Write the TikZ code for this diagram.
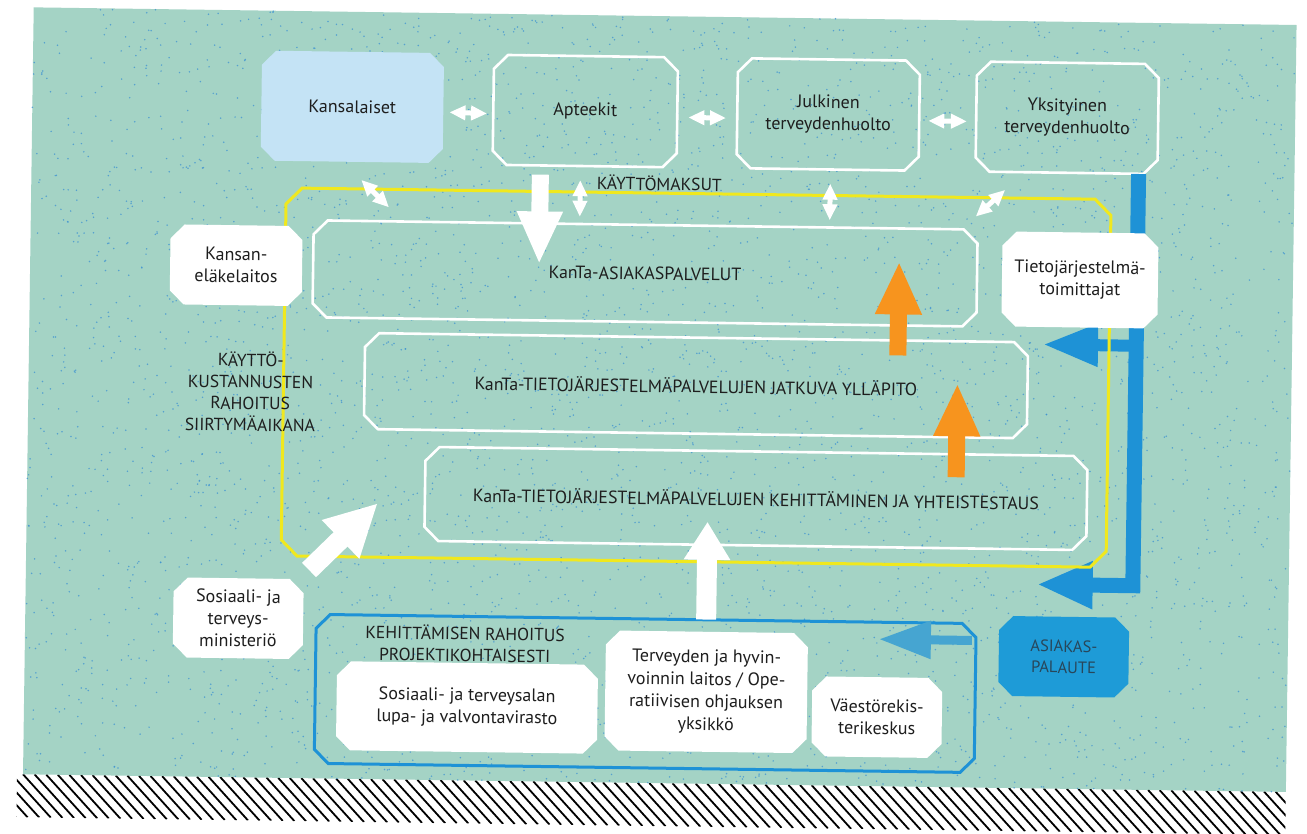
\documentclass[tikz,border=0pt]{standalone}
\usepackage{fontspec}
\setmainfont{PT Sans}
\usetikzlibrary{arrows.meta,calc}
\definecolor{bgteal}{RGB}{164,211,197}
\definecolor{dotc}{RGB}{60,145,210}
\definecolor{kblue}{RGB}{196,227,245}
\definecolor{ylw}{RGB}{240,232,30}
\definecolor{fblue}{RGB}{30,146,214}
\definecolor{pblue}{RGB}{30,155,215}
\definecolor{orng}{RGB}{247,148,30}
\definecolor{txtc}{RGB}{30,30,30}
\definecolor{ptxt}{RGB}{40,70,90}
\newcommand\chpath[6]{\path[#1] ({#2+#6},{#3}) -- ({#4-#6},{#3}) -- ({#4},{#3+#6}) -- ({#4},{#5-#6}) -- ({#4-#6},{#5}) -- ({#2+#6},{#5}) -- ({#2},{#5-#6}) -- ({#2},{#3+#6}) -- cycle;}
\newcommand\chbox[9]{\chpath{#7}{#2-#4/2}{#3-#5/2}{#2+#4/2}{#3+#5/2}{#6}\node[txt,minimum width=#4,minimum height=#5,#9] (#1) at (#2,#3) {#8};}
\begin{document}
\begin{tikzpicture}[x=1pt,y=-1pt,
  txt/.style={align=center,text=txtc,font=\fontsize{18}{22}\selectfont,inner sep=0pt},
  capslbl/.style={align=center,text=txtc,font=\fontsize{17.5}{21.5}\selectfont,inner sep=0pt},
  boxcaps/.style={font=\fontsize{17.8}{21}\selectfont},
  wline/.style={draw=white,line width=2.6pt},
  wfill/.style={fill=white},
  dbl/.style={draw=white,line width=5pt,{Triangle[length=16pt,width=14pt]}-{Triangle[length=16pt,width=14pt]}},
  wbig/.style={draw=white,line width=17pt,-{Triangle[length=53pt,width=42pt]}},
  wdiag/.style={draw=white,line width=20pt,-{Triangle[length=52pt,width=50pt]}},
  wvert/.style={draw=white,line width=20pt,-{Triangle[length=38pt,width=44pt]}},
  oarr/.style={draw=orng,line width=17pt,-{Triangle[length=53pt,width=43pt]}},
  bluebar/.style={draw=fblue,line width=15pt,line join=miter,-{Triangle[length=56pt,width=44pt]}},
  blueup/.style={draw=fblue,line width=12pt,-{Triangle[length=55pt,width=40pt]}},
  sarr/.style={draw=fblue!70!bgteal,line width=9pt,-{Triangle[length=52pt,width=36pt]}}]
\useasboundingbox (0,0) rectangle (1307,834);
\fill[white] (0,0) rectangle (1307,834);
\clip (0,0) rectangle (1307,834);
\begin{scope}[rotate around={-0.8:(650,420)},transform shape]
% background sheet
\fill[bgteal] (28,16) rectangle (1291,783);
\begin{scope}
\clip (22,783) rectangle (1291,826);
\foreach \i in {0,...,114}{\draw[black,line width=1.8pt] ({\i*11.6-30},783) -- ++(40,43);}
\end{scope}
% stipple
\pgfmathsetseed{7}
\foreach \i in {1,...,4200}{\pgfmathsetmacro\dx{28+1263*rnd}\pgfmathsetmacro\dy{16+767*rnd}\fill[dotc,opacity=0.75] (\dx,\dy) circle[radius=0.85];}
% top row
\chbox{kans}{348}{111}{182}{110}{14}{fill=kblue}{Kansalaiset}{}
\chbox{apt}{581}{112}{184}{110}{14}{wline}{Apteekit}{}
\chbox{jul}{824}{112}{182}{110}{14}{wline}{Julkinen\\terveydenhuolto}{}
\chbox{yks}{1063}{112}{182}{110}{14}{wline}{Yksityinen\\terveydenhuolto}{}
% blue feedback path
\coordinate (lowtip) at (1039,579);
\coordinate (ub) at (1135,339);
\coordinate (uptip) at (1042,339);
\draw[bluebar] ([xshift=-19pt]yks.south east) |- (lowtip);
\draw[blueup] (ub) -- (uptip);
% yellow frame
\chbox{yframe}{695.5}{377}{825}{368}{16}{draw=ylw,line width=3pt}{}{}
% inner service boxes
\chbox{box1}{643}{273.5}{664}{97}{14}{wline}{KanTa-ASIAKASPALVELUT}{boxcaps}
\chbox{box2}{695.5}{385}{663}{96}{14}{wline}{KanTa-TIETOJÄRJESTELMÄPALVELUJEN JATKUVA YLLÄPITO}{boxcaps}
\chbox{box3}{757}{497}{662}{94}{14}{wline}{KanTa-TIETOJÄRJESTELMÄPALVELUJEN KEHITTÄMINEN JA YHTEISTESTAUS}{boxcaps}
% side boxes
\chbox{kel}{234}{271}{132}{80}{14}{wfill}{Kansan-\\eläkelaitos}{}
\chbox{tjt}{1078}{274}{156}{95}{14}{wfill}{Tietojärjestelmä-\\toimittajat}{}
\chbox{stm}{241}{624}{130}{80}{14}{wfill}{Sosiaali- ja\\terveys-\\ministeriö}{}
% blue frame and its boxes
\chbox{bframe}{649}{693.5}{660}{149}{14}{draw=fblue,line width=3pt}{}{}
\coordinate (sa) at (975,636);
\coordinate (sb) at (882,636);
\draw[sarr] (sa) -- (sb);
\chbox{lupa}{471}{710}{261}{89}{14}{wfill}{Sosiaali- ja terveysalan\\lupa- ja valvontavirasto}{}
\chbox{thl}{710}{691}{202}{120}{14}{wfill}{Terveyden ja hyvin-\\voinnin laitos / Ope-\\ratiivisen ohjauksen\\yksikkö}{font=\fontsize{18}{22.5}\selectfont}
\chbox{vrk}{881}{714}{130}{80}{14}{wfill}{Väestörekis-\\terikeskus}{}
\chbox{asp}{1067}{651}{130}{80}{14}{fill=pblue}{ASIAKAS-\\PALAUTE}{text=ptxt,font=\fontsize{16.5}{21}\selectfont}
% white double arrows between top boxes
\draw[dbl,shorten <=6pt,shorten >=6pt] ([yshift=-4pt]kans.east) -- ([yshift=-4pt]apt.west);
\draw[dbl,shorten <=11pt,shorten >=11pt] ([yshift=-5pt]apt.east) -- ([yshift=-5pt]jul.west);
\draw[dbl,shorten <=9pt,shorten >=9pt] ([yshift=-5pt]jul.east) -- ([yshift=-5pt]yks.west);
\draw[dbl,shorten <=14pt,shorten >=7pt] ([xshift=-4pt]apt.south) -- ([xshift=-4pt]apt.south |- box1.north);
\draw[dbl,shorten <=14pt,shorten >=7pt] ([xshift=3pt]jul.south) -- ([xshift=3pt]jul.south |- box1.north);
\coordinate (d1a) at (358,184);
\coordinate (d1b) at (386,211);
\draw[dbl] (d1a) -- (d1b);
\coordinate (d2a) at (973,212);
\coordinate (d2b) at (1002,185);
\draw[dbl] (d2a) -- (d2b);
% big white arrows
\coordinate (t1) at (537,266);
\draw[wbig,shorten <=9pt] (t1 |- apt.south) -- (t1);
\coordinate (t6) at (379,507);
\draw[wdiag] ([xshift=5pt,yshift=9pt]stm.north east) -- (t6);
\coordinate (t7) at (709,521);
\draw[wvert] (t7 |- bframe.north) -- (t7);
% orange arrows
\coordinate (o1a) at (897,352);
\coordinate (o1b) at (897,258);
\draw[oarr] (o1a) -- (o1b);
\coordinate (o2a) at (957,473);
\coordinate (o2b) at (957,379);
\draw[oarr] (o2a) -- (o2b);
% labels
\node[capslbl] (lkm) at (656,183) {KÄYTTÖMAKSUT};
\node[capslbl] (lkk) at (250,397) {KÄYTTÖ-\\KUSTANNUSTEN\\RAHOITUS\\SIIRTYMÄAIKANA};
\node[capslbl] (lkr) at (468,646) {KEHITTÄMISEN RAHOITUS\\PROJEKTIKOHTAISESTI};
\end{scope}
\end{tikzpicture}
\end{document}
